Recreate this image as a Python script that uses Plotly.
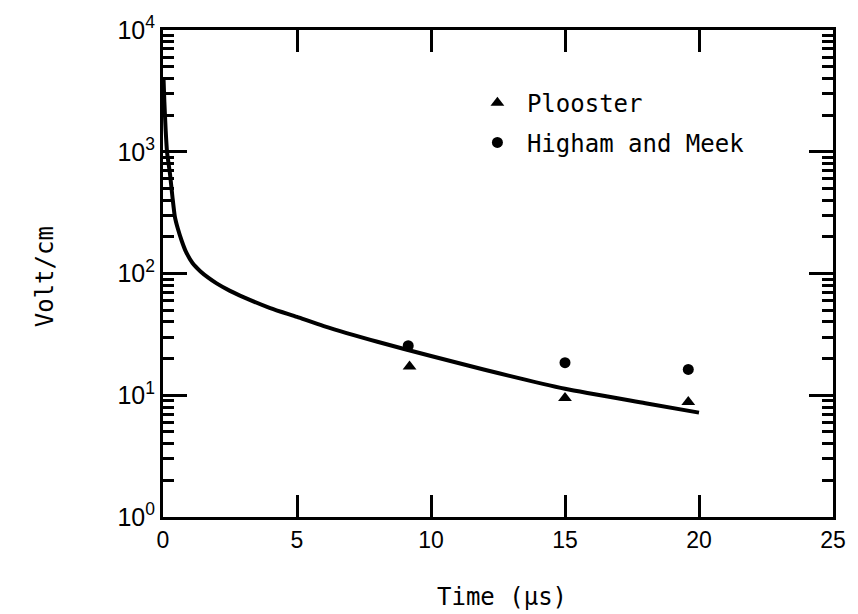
import plotly.graph_objects as go

# Theory curve
curve_t = [0.02, 0.05, 0.1, 0.15, 0.26, 0.35, 0.44, 0.55, 0.7, 0.85, 1.1, 1.4, 1.7, 2.0, 2.5, 3.0, 4.0,
           5.0, 6.0, 8.0, 10.0, 12.0, 15.0, 18.0, 20.0]
curve_v = [4000, 2600, 1500, 1000, 660, 430, 295, 235, 185, 152, 122, 104, 92, 83, 72, 64, 52,
           44, 37, 27.5, 21, 16.2, 11.3, 8.6, 7.2]

# Measurements
plooster_t = [9.2, 15.0, 19.6]
plooster_v = [17.2, 9.5, 8.8]
higham_t = [9.15, 15.0, 19.6]
higham_v = [25.5, 18.5, 16.3]

x_ticks = [0, 5, 10, 15, 20, 25]
y_ticks = [1, 10, 100, 1000, 10000]
y_ticktext = ["10<sup>0</sup>", "10<sup>1</sup>", "10<sup>2</sup>", "10<sup>3</sup>", "10<sup>4</sup>"]

mono = "DejaVu Sans Mono"
sans = "Liberation Sans"

L, R, T, B = 163, 16, 25, 97
W, H = 858, 614
PW, PH = W - L - R, H - T - B


def px(xp):
    return (xp - L) / PW


def py(yp):
    return (H - B - yp) / PH


fig = go.Figure()
fig.add_trace(go.Scatter(x=curve_t, y=curve_v, mode="lines", line=dict(color="black", width=4, shape="spline", smoothing=0.6),
                         showlegend=False))
fig.add_trace(go.Scatter(x=plooster_t, y=plooster_v, mode="markers", name="Plooster", legend="legend",
                         marker=dict(symbol="triangle-up", size=12, color="black")))
fig.add_trace(go.Scatter(x=higham_t, y=higham_v, mode="markers", name="Higham and Meek", legend="legend2",
                         marker=dict(symbol="circle", size=11, color="black")))

leg_common = dict(xanchor="left", yanchor="middle", bgcolor="rgba(0,0,0,0)", borderwidth=0,
                  font=dict(family=mono, size=24, color="black"), itemwidth=49)

fig.update_layout(
    width=W, height=H,
    margin=dict(l=L, r=R, t=T, b=B),
    paper_bgcolor="white", plot_bgcolor="white",
    showlegend=True,
    legend=dict(x=px(472), y=py(99), **leg_common),
    legend2=dict(x=px(472), y=py(139), **leg_common),
    xaxis=dict(range=[0, 25], tickvals=x_ticks, ticks="inside", ticklen=22, tickwidth=2.5, tickcolor="black",
               showline=True, linecolor="black", linewidth=3, mirror="ticks", showgrid=False, zeroline=False,
               tickfont=dict(family=sans, size=23, color="black")),
    yaxis=dict(type="log", range=[0, 4], tickvals=y_ticks, ticktext=y_ticktext, ticks="inside", ticklen=24,
               tickwidth=2.5, tickcolor="black", showline=True, linecolor="black", linewidth=3, mirror="ticks",
               showgrid=False, zeroline=False, tickfont=dict(family=sans, size=25, color="black"),
               minor=dict(ticks="inside", ticklen=11, tickwidth=2.5, tickcolor="black", dtick="D1", showgrid=False)),
    annotations=[
        dict(text="Time (\u00b5s)", x=px(507), y=py(598), xref="paper", yref="paper", yanchor="middle",
             showarrow=False, font=dict(family=mono, size=24, color="black")),
        dict(text="Volt/cm", x=px(28), y=py(274), xref="paper", yref="paper", showarrow=False, textangle=-90,
             font=dict(family=mono, size=24, color="black")),
    ],
)
fig.write_html("out.html")
